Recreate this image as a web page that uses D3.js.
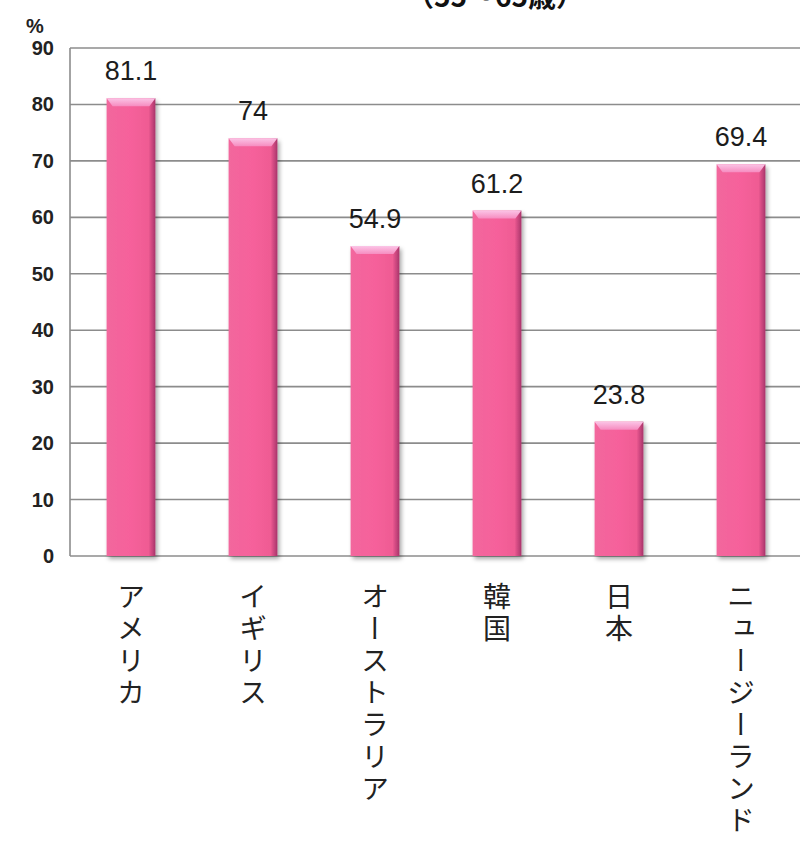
<!DOCTYPE html>
<html>
<head>
<meta charset="utf-8">
<script src="https://cdn.jsdelivr.net/npm/d3@7"></script>
<style>
  html, body { margin: 0; padding: 0; background: #fff; }
  svg { display: block; }
</style>
</head>
<body>
<svg id="chart" width="800" height="843"></svg>
<script>
// data
const countries = ['アメリカ', 'イギリス', 'オーストラリア', '韓国', '日本', 'ニュージーランド']
const rates = [81.1, 74, 54.9, 61.2, 23.8, 69.4]
const yTicks = [0, 10, 20, 30, 40, 50, 60, 70, 80, 90]
const subTitle = '（55～65歳）'

const svg = d3.select('#chart')
const plotLeft = 70, plotRight = 802, plotTop = 48, plotBottom = 556

let x = d3.scaleBand().domain(countries).range([plotLeft, plotRight]).paddingInner(0.6).paddingOuter(0.3)
let y = d3.scaleLinear().domain([0, 90]).range([plotBottom, plotTop])

const defs = svg.append('defs')
let body = defs.append('linearGradient').attr('id', 'barBody')
body.append('stop').attr('offset', '0%').attr('stop-color', '#f2679d')
body.append('stop').attr('offset', '50%').attr('stop-color', '#f6619b')
body.append('stop').attr('offset', '86%').attr('stop-color', '#ef5b93')
body.append('stop').attr('offset', '100%').attr('stop-color', '#a8346a')
let cap = defs.append('linearGradient').attr('id', 'barCap').attr('x2', 0).attr('y2', 1)
cap.append('stop').attr('offset', '0%').attr('stop-color', '#fbc4e6')
cap.append('stop').attr('offset', '100%').attr('stop-color', '#f68cc0')
defs.append('filter').attr('id', 'shadow')
  .attr('x', '-20%').attr('y', '-5%').attr('width', '150%').attr('height', '115%')
  .append('feDropShadow')
  .attr('dx', 2).attr('dy', 3).attr('stdDeviation', 2)
  .attr('flood-color', '#000').attr('flood-opacity', 0.35)

// sub-title, cut by the top edge as in the source
svg.append('text')
  .attr('x', 495).attr('y', 7)
  .attr('text-anchor', 'middle')
  .style('font-family', 'Noto Sans CJK JP')
  .style('font-weight', 'bold')
  .style('font-size', '28px')
  .attr('fill', '#111')
  .text(subTitle)

// grid
svg.append('g')
  .selectAll('line')
  .data(yTicks)
  .enter()
  .append('line')
  .attr('x1', plotLeft).attr('x2', 800)
  .attr('y1', d => y(d)).attr('y2', d => y(d))
  .attr('stroke', '#8c8c8c')
  .attr('stroke-width', 1.6)

svg.append('line')
  .attr('x1', plotLeft).attr('x2', plotLeft)
  .attr('y1', y(90)).attr('y2', y(0))
  .attr('stroke', '#8c8c8c')
  .attr('stroke-width', 1.6)

// y tick labels
svg.append('g')
  .selectAll('text')
  .data(yTicks)
  .enter()
  .append('text')
  .attr('x', 54)
  .attr('y', d => y(d) + 7)
  .attr('text-anchor', 'end')
  .style('font-family', 'Liberation Sans')
  .style('font-weight', 'bold')
  .style('font-size', '20px')
  .attr('fill', '#222')
  .text(d => d)

svg.append('text')
  .attr('x', 35).attr('y', 33)
  .attr('text-anchor', 'middle')
  .style('font-family', 'Liberation Sans')
  .style('font-weight', 'bold')
  .style('font-size', '20px')
  .attr('fill', '#222')
  .text('%')

// bars
let g = svg.append('g')
  .selectAll('.bar')
  .data(countries)
  .enter()
  .append('g')
  .attr('class', 'bar')

g.append('rect')
  .attr('x', d => x(d))
  .attr('y', (d, i) => y(rates[i]))
  .attr('width', x.bandwidth())
  .attr('height', (d, i) => y(0) - y(rates[i]))
  .attr('fill', 'url(#barBody)')
  .attr('filter', 'url(#shadow)')

g.append('path')
  .attr('d', (d, i) => {
    let x0 = x(d), x1 = x(d) + x.bandwidth(), y0 = y(rates[i])
    return d3.line()([[x0, y0], [x1, y0], [x1 - 6, y0 + 8], [x0 + 6, y0 + 8]]) + 'Z'
  })
  .attr('fill', 'url(#barCap)')

// value labels
g.append('text')
  .attr('x', d => x(d) + x.bandwidth() / 2)
  .attr('y', (d, i) => y(rates[i]) - 18)
  .attr('text-anchor', 'middle')
  .style('font-family', 'Liberation Sans')
  .style('font-size', '27px')
  .attr('fill', '#1c1c1c')
  .text((d, i) => rates[i])

// vertical category labels
g.append('text')
  .attr('x', d => x(d) + x.bandwidth() / 2)
  .attr('y', 582)
  .style('writing-mode', 'vertical-rl')
  .style('font-family', 'Noto Sans CJK JP')
  .style('font-size', '28px')
  .style('letter-spacing', '4px')
  .attr('fill', '#222')
  .text(d => d)
</script>
</body>
</html>
